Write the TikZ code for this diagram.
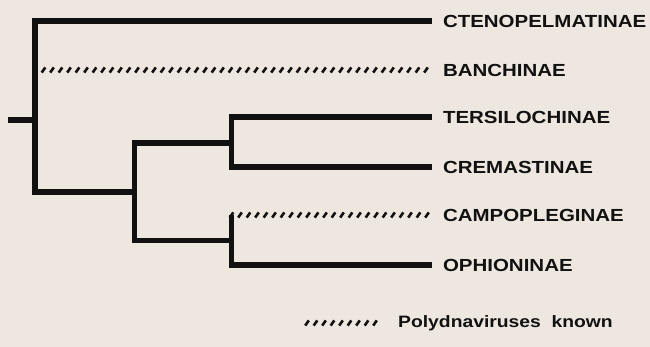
\documentclass[tikz,border=0pt]{standalone}
\usepackage{fontspec}
\setmainfont{Liberation Sans}
\newfontfamily\taxfont[FakeStretch=1.17]{Liberation Sans}
\usetikzlibrary{decorations.markings}
\definecolor{ink}{HTML}{111111}
\definecolor{paper}{HTML}{EDE7DF}

\begin{document}
\begin{tikzpicture}[x=1pt,y=-1pt,line join=miter,every node/.style={font=\taxfont\bfseries\fontsize{17.5}{17.5}\selectfont,text=ink,inner sep=0pt},taxon/.style={anchor=west,outer xsep=11pt},branch/.style={draw=ink,line width=5.5pt},hatch/.style={postaction={decorate},decoration={markings,mark=between positions 0 and 1 step 8.5pt with {\draw[ink,line width=2.6pt] (-1.8pt,-2.6pt)--(1.8pt,2.6pt);}}}]
\fill[paper] (0,0) rectangle (650,347);
\path[use as bounding box] (0,0) rectangle (650,347);

% taxa
\node[taxon] (cten) at (432,21) {CTENOPELMATINAE};
\node[taxon] (banch) at (432,70) {BANCHINAE};
\node[taxon] (ters) at (432,117) {TERSILOCHINAE};
\node[taxon] (crem) at (432,167) {CREMASTINAE};
\node[taxon] (camp) at (432,215) {CAMPOPLEGINAE};
\node[taxon] (ophi) at (432,265) {OPHIONINAE};

% inner nodes
\coordinate (root) at (8,120);
\coordinate (n0) at (35,120);
\coordinate (n1) at (134.5,192);
\coordinate (n2) at (231.5,143);
\coordinate (n3) at (231.5,240.5);

\draw[branch] (root)--(n0);
\draw[branch] (cten.west) -| (n0) |- (n1);
\path[hatch] (n0 |- banch.west)--(banch.west);
\draw[branch] (n2) -| (n1) |- (n3);
\draw[branch] (ters.west) -| (n2) |- (crem.west);
\draw[branch] (n3 |- camp.west) |- (ophi.west);
\path[hatch] (n3 |- camp.west)--(camp.west);

% legend
\coordinate (legstart) at (307,323);
\node[anchor=west,font=\taxfont\bfseries\fontsize{16.5}{16.5}\selectfont] (legtxt) at (398,323) {Polydnaviruses\ \ known};
\path[hatch] (legstart)--([xshift=-20pt]legtxt.west);
\end{tikzpicture}
\end{document}
